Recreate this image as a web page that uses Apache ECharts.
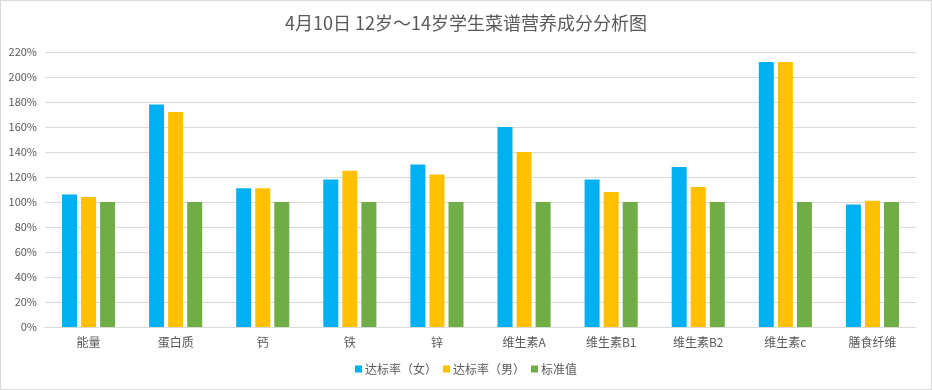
<!DOCTYPE html>
<html><head><meta charset="utf-8">
<script src="https://cdn.jsdelivr.net/npm/echarts@6/dist/echarts.min.js"></script>
<style>html,body{margin:0;padding:0;background:#fff}#c{width:930px;height:388px;border:1px solid #d9d9d9}</style>
</head><body><div id="c"></div>
<script>
const categories = ['能量','蛋白质','钙','铁','锌','维生素A','维生素B1','维生素B2','维生素c','膳食纤维'];
const female = [106, 178, 111, 118, 130, 160, 118, 128, 212, 98];
const male = [104, 172, 111, 125, 122, 140, 108, 112, 212, 101];
const standard = [100, 100, 100, 100, 100, 100, 100, 100, 100, 100];
const seriesNames = ['达标率（女）','达标率（男）','标准值'];
const colors = ['#00B0F0','#FFC000','#70AD47'];
const font = 'Microsoft YaHei, "Noto Sans CJK SC", sans-serif';
const chart = echarts.init(document.getElementById('c'));
const mk = (name, data, i) => ({name, type:'bar', data, barWidth:15, barGap:'27%', itemStyle:{color:colors[i]}});
chart.setOption({
  animation:false,
  title:{text:'4月10日 12岁～14岁学生菜谱营养成分分析图', left:'center', top:8,
    textStyle:{color:'#595959', fontSize:18, fontWeight:'normal', fontFamily:font}},
  legend:{bottom:9, itemWidth:7, itemHeight:7, itemGap:6, icon:'rect',
    textStyle:{color:'#595959', fontSize:12, fontFamily:font, padding:[0,0,0,-2]}},
  grid:{left:44, right:15, top:51, bottom:62},
  xAxis:{type:'category', data:categories,
    axisLine:{lineStyle:{color:'#d9d9d9'}}, axisTick:{show:false},
    axisLabel:{color:'#595959', fontSize:12, fontFamily:font, margin:9}},
  yAxis:{type:'value', min:0, max:220, interval:20,
    axisLabel:{formatter:'{value}%', color:'#595959', fontSize:11, fontFamily:font, margin:8},
    splitLine:{lineStyle:{color:'#d9d9d9'}}},
  series:[mk(seriesNames[0], female, 0), mk(seriesNames[1], male, 1), mk(seriesNames[2], standard, 2)]
});
</script></body></html>
